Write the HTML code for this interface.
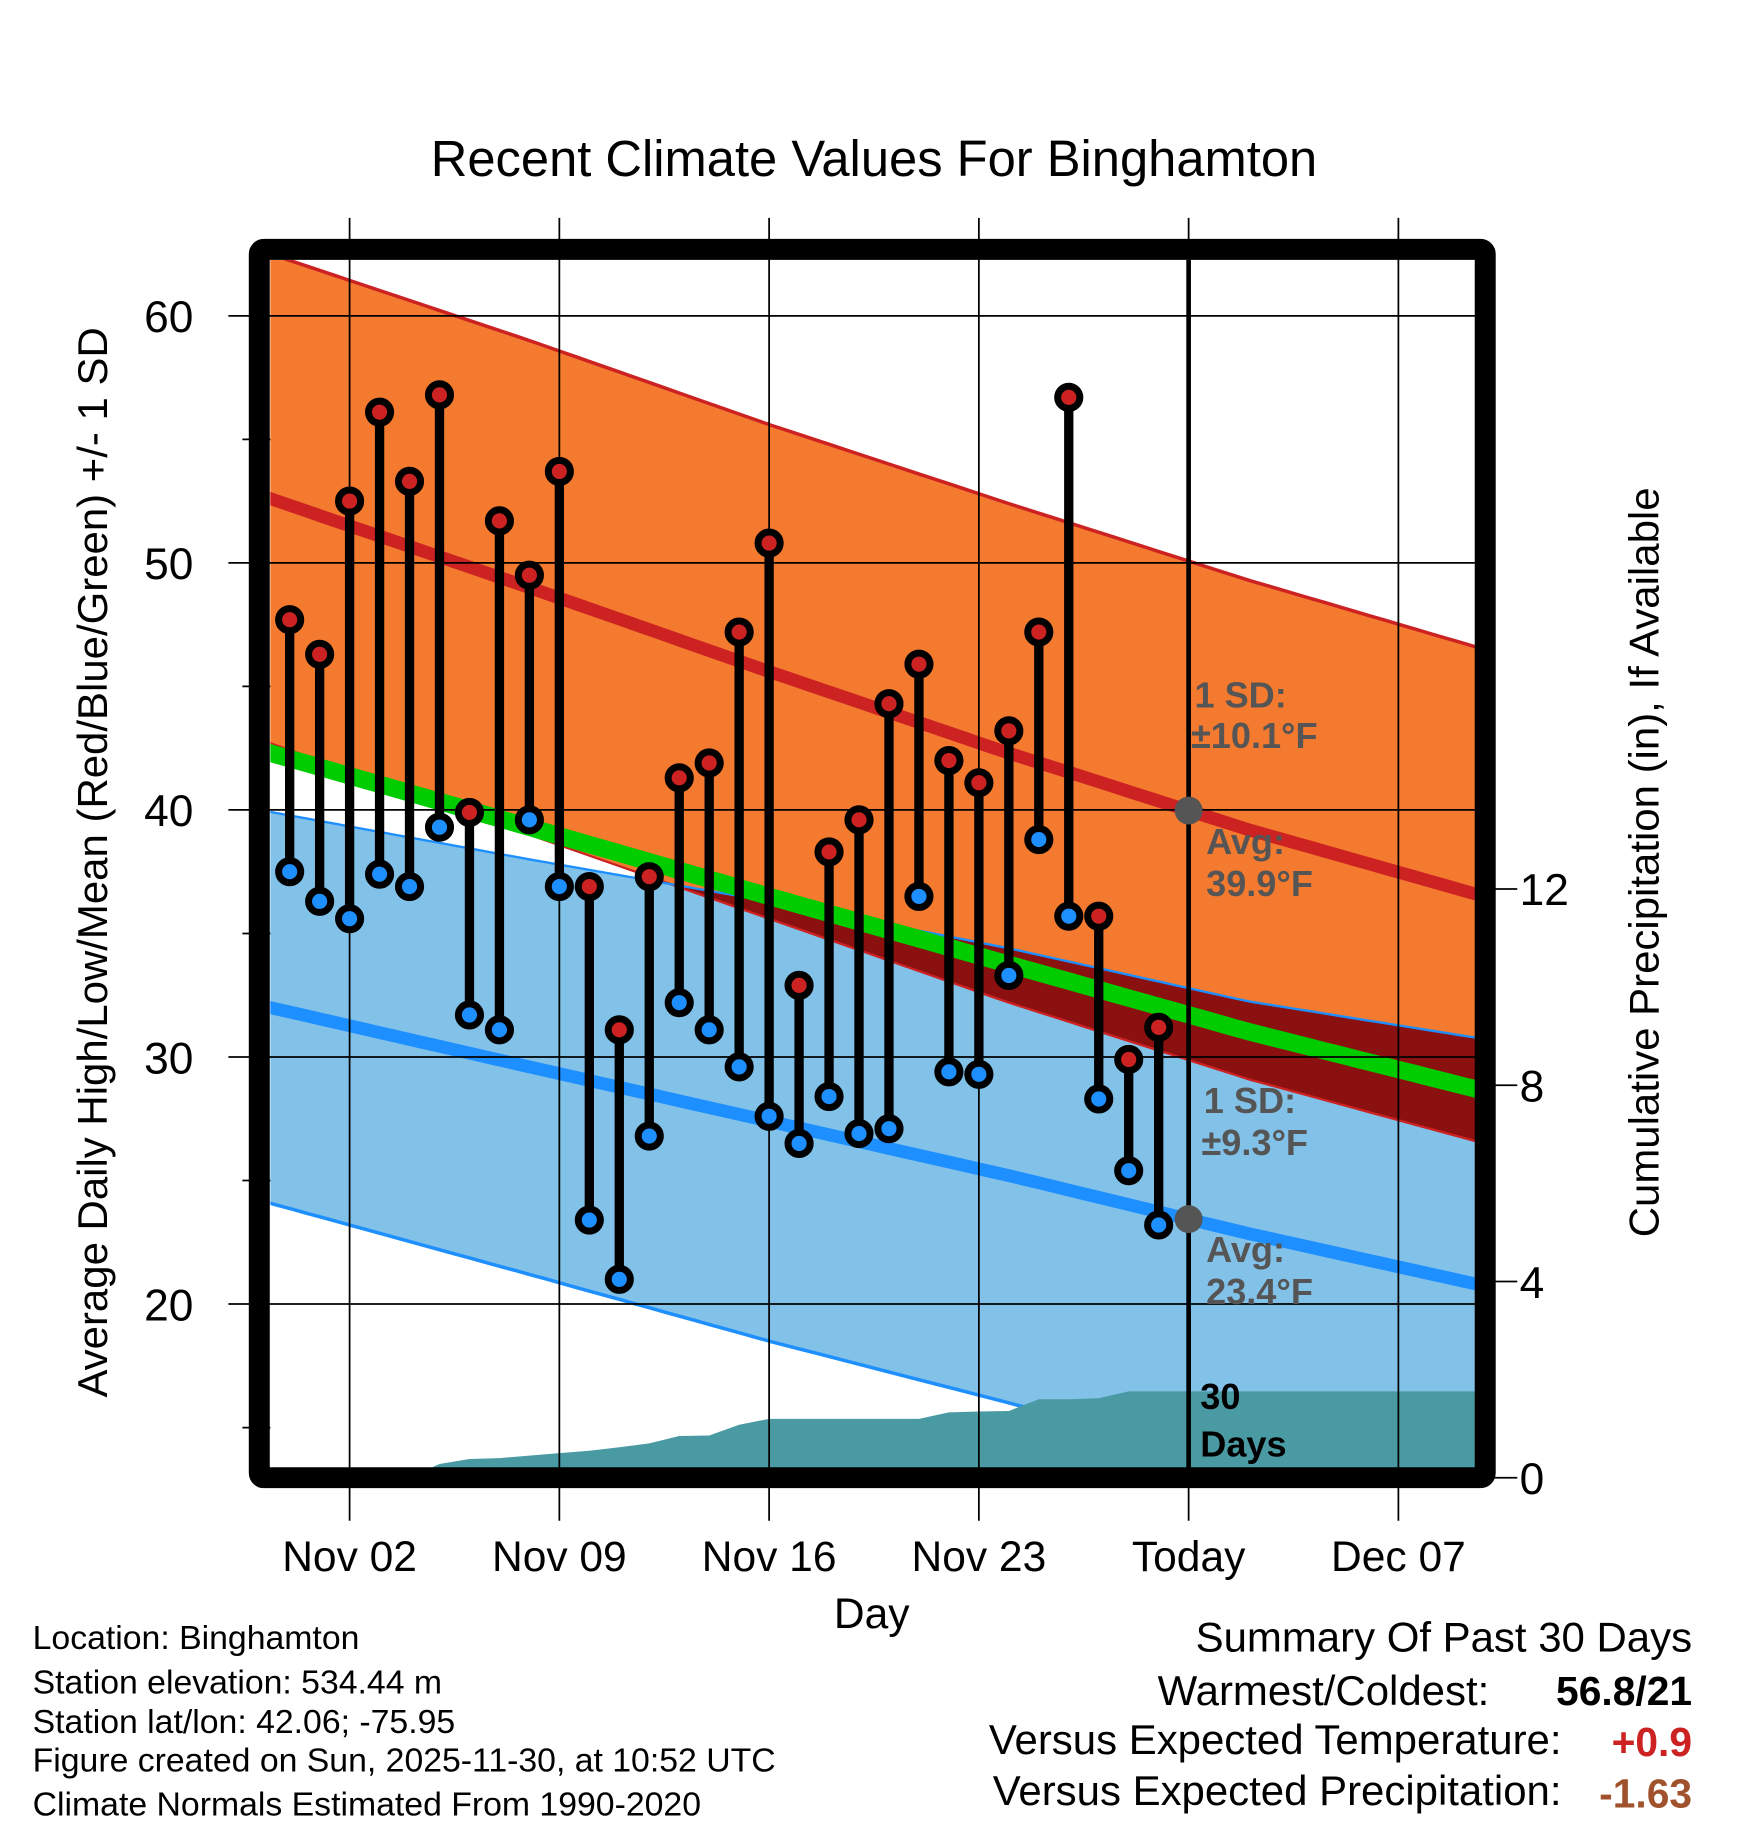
<!DOCTYPE html>
<html><head><meta charset="utf-8"><style>
html,body{margin:0;padding:0;background:#fff}
svg{display:block;font-family:"Liberation Sans",Arial,sans-serif}
</style></head><body>
<svg id="chart" xmlns="http://www.w3.org/2000/svg" width="1748" height="1828" viewBox="0 0 1500 1568.6" preserveAspectRatio="none">
<g id="g"></g>
</svg>
<script>
// ---- data ----
const yTicks = [20, 30, 40, 50, 60];
const yMinor = [15, 25, 35, 45, 55];
const pTicks = [0, 4, 8, 12];
const xTickDays = [2, 9, 16, 23, 30, 37];
const xTickLabels = ["Nov 02", "Nov 09", "Nov 16", "Nov 23", "Today", "Dec 07"];
const obsDays = [0,1,2,3,4,5,6,7,8,9,10,11,12,13,14,15,16,17,18,19,20,21,22,23,24,25,26,27,28,29];
const highs = [47.7,46.3,52.5,56.1,53.3,56.8,39.9,51.7,49.5,53.7,36.9,31.1,37.3,41.3,41.9,47.2,50.8,32.9,38.3,39.6,44.3,45.9,42.0,41.1,43.2,47.2,56.7,35.7,29.9,31.2];
const lows  = [37.5,36.3,35.6,37.4,36.9,39.3,31.7,31.1,39.6,36.9,23.4,21.0,26.8,32.2,31.1,29.6,27.6,26.5,28.4,26.9,27.1,36.5,29.4,29.3,33.3,38.8,35.7,28.3,25.4,23.2];
const precip = [0,0,0,0,0,0.28,0.38,0.4,0.45,0.5,0.55,0.62,0.7,0.85,0.86,1.08,1.2,1.2,1.2,1.2,1.2,1.2,1.33,1.35,1.36,1.6,1.6,1.62,1.76,1.76];
const normDays = [-1, 8, 16, 24, 32, 40];
const avgHigh = [52.75, 49.0, 45.6, 42.3, 39.2, 36.45];
const sdHigh  = [9.9, 10.0, 10.0, 10.1, 10.1, 10.0];
const avgLow  = [32.1, 29.6, 27.4, 25.2, 22.85, 20.7];
const sdLow   = [7.9, 8.4, 8.9, 9.2, 9.4, 10.0];

// ---- axes ----
const L=232,R=1266,T=223,B=1260;
const X = d => 300 + (d-2)*25.714;
const Y = v => 271 + (60-v)*21.2;
const P = p => 1268 - p*42.1;
const dMin=(L-300)/25.714+2-0.3, dMax=(R-300)/25.714+2+0.3;
const NS="http://www.w3.org/2000/svg";
const g=document.getElementById('g');
function el(tag,attrs,parent){const e=document.createElementNS(NS,tag);for(const k in attrs)e.setAttribute(k,attrs[k]);(parent||g).appendChild(e);return e;}
function interp(arr,d){for(let i=0;i<normDays.length-1;i++){if(d<=normDays[i+1]){const t=(d-normDays[i])/(normDays[i+1]-normDays[i]);return arr[i]+t*(arr[i+1]-arr[i]);}}return arr[arr.length-1];}
const samples=[];for(let d=dMin;d<dMax;d+=0.5)samples.push(d);samples.push(dMax);
const hiU=d=>interp(avgHigh,d)+interp(sdHigh,d), hiL=d=>interp(avgHigh,d)-interp(sdHigh,d);
const loU=d=>interp(avgLow,d)+interp(sdLow,d), loL=d=>interp(avgLow,d)-interp(sdLow,d);
const line=f=>samples.map(d=>X(d).toFixed(1)+','+Y(f(d)).toFixed(1));
function band(fu,fl){return 'M'+line(fu).join(' L')+' L'+line(fl).reverse().join(' L')+'Z';}

const clip=el('clipPath',{id:'pc'});el('rect',{x:L,y:T,width:R-L,height:B-T},clip);
const plot=el('g',{'clip-path':'url(#pc)'});

let e;
e=el('path',{d:band(hiU,hiL),fill:'#f47a2f'},plot);

e=el('path',{d:band(loU,loL),fill:'#82c1e8'},plot);

e=el('path',{d:band(d=>Math.min(loU(d),Math.max(hiL(d),loU(d))),d=>Math.min(loU(d),hiL(d))),fill:'#8b1010'},plot);

[[hiU,'#cc2222',3],[hiL,'#cc2222',2],[loU,'#1e8fff',2],[loL,'#1e8fff',3]].forEach(([f,c,w])=>{
  e=el('polyline',{points:line(f).join(' '),fill:'none',stroke:c,'stroke-width':w},plot);
  
});
e=el('polyline',{points:line(d=>interp(avgHigh,d)).join(' '),fill:'none',stroke:'#cc2222','stroke-width':11},plot);

e=el('polyline',{points:line(d=>interp(avgLow,d)).join(' '),fill:'none',stroke:'#1e8fff','stroke-width':11},plot);

e=el('polyline',{points:line(d=>(interp(avgLow,d)+interp(avgHigh,d))/2).join(' '),fill:'none',stroke:'#00cc00','stroke-width':15},plot);


// precip area
let pp='M'+X(obsDays[0])+','+P(0);
obsDays.forEach((d,i)=>{pp+=' L'+X(d)+','+P(precip[i]);});
pp+=' L'+(R+5)+','+P(precip[precip.length-1])+' L'+(R+5)+','+(B+5)+' L'+X(obsDays[0])+','+(B+5)+'Z';
e=el('path',{d:pp,fill:'#4a9aa3'},plot);


// grid
yTicks.forEach(v=>{e=el('line',{x1:196,x2:R,y1:Y(v),y2:Y(v),stroke:'#000','stroke-width':1.5});
});
yMinor.forEach(v=>{e=el('line',{x1:208,x2:L,y1:Y(v),y2:Y(v),stroke:'#000','stroke-width':1.5});
});
xTickDays.forEach(d=>{e=el('line',{x1:X(d),x2:X(d),y1:187,y2:1305,stroke:'#000','stroke-width':1.5});
});
pTicks.forEach(p=>{e=el('line',{x1:R,x2:1302,y1:P(p),y2:P(p),stroke:'#000','stroke-width':1.5});
});

// observations
obsDays.forEach((d,i)=>{
  e=el('line',{x1:X(d),x2:X(d),y1:Y(highs[i]),y2:Y(lows[i]),stroke:'#000','stroke-width':8});
  
});
obsDays.forEach((d,i)=>{
  e=el('circle',{cx:X(d),cy:Y(highs[i]),r:9.5,fill:'#cc2222',stroke:'#000','stroke-width':6});
  
  e=el('circle',{cx:X(d),cy:Y(lows[i]),r:9.5,fill:'#1e8fff',stroke:'#000','stroke-width':6});
  
});

// today line
e=el('line',{x1:X(30),x2:X(30),y1:T,y2:B,stroke:'#000','stroke-width':4});

e=el('circle',{cx:X(30),cy:Y(interp(avgHigh,30)),r:12,fill:'#555'});

e=el('circle',{cx:X(30),cy:Y(interp(avgLow,30)),r:12,fill:'#555'});


// frame
e=el('rect',{x:222.5,y:214,width:1052,height:1054,fill:'none',stroke:'#000','stroke-width':18,rx:4});

</script>
<script>
const S=document.getElementById('chart');
function T2(s,a,name){const e=document.createElementNS("http://www.w3.org/2000/svg",'text');for(const k in a)e.setAttribute(k,a[k]);e.textContent=s;


S.appendChild(e);return e;}
T2("Recent Climate Values For Binghamton",{x:750,y:151,'font-size':43.5,'text-anchor':'middle'},'chart-title');
yTicks.forEach(v=>T2(String(v),{x:166,y:Y(v)+14,'font-size':38,'text-anchor':'end'},'y-tick-label'));
pTicks.forEach(p=>T2(String(p),{x:1304,y:P(p)+14,'font-size':38},'precip-tick-label'));
xTickDays.forEach((d,i)=>T2(xTickLabels[i],{x:X(d),y:1348,'font-size':36.5,'text-anchor':'middle'},'x-tick-label'));
T2("Day",{x:748,y:1397,'font-size':36.5,'text-anchor':'middle'},'x-axis-title');
T2("Average Daily High/Low/Mean (Red/Blue/Green) +/- 1 SD",{x:0,y:0,'font-size':36,'text-anchor':'middle',transform:'translate(92,740) rotate(-90)'},'y-axis-title');
T2("Cumulative Precipitation (in), If Available",{x:0,y:0,'font-size':36,'text-anchor':'middle',transform:'translate(1423,740) rotate(-90)'},'precip-axis-title');
const ann=[["1 SD:",1025,607],["±10.1°F",1022,642],["Avg:",1035,733],["39.9°F",1035,769],["1 SD:",1033,955],["±9.3°F",1031,991],["Avg:",1035,1083],["23.4°F",1035,1119]];
ann.forEach(a=>T2(a[0],{x:a[1],y:a[2],'font-size':31,'font-weight':'bold',fill:'#555'},'normal-annotation'));
T2("30",{x:1030,y:1209,'font-size':31,'font-weight':'bold'},'days-label');
T2("Days",{x:1030,y:1250,'font-size':31,'font-weight':'bold'},'days-label');
const foot=[["Location: Binghamton",1415],["Station elevation: 534.44 m",1453],["Station lat/lon: 42.06; -75.95",1487],["Figure created on Sun, 2025-11-30, at 10:52 UTC",1520],["Climate Normals Estimated From 1990-2020",1558]];
foot.forEach(f=>T2(f[0],{x:28,y:f[1],'font-size':29},'station-info'));
T2("Summary Of Past 30 Days",{x:1452,y:1417,'font-size':36,'text-anchor':'end'},'summary-title');
T2("Warmest/Coldest:",{x:1278,y:1463,'font-size':36,'text-anchor':'end'},'summary-label');
T2("56.8/21",{x:1452,y:1463,'font-size':35,'font-weight':'bold','text-anchor':'end'},'warmest-coldest-value');
T2("Versus Expected Temperature:",{x:1340,y:1505,'font-size':36,'text-anchor':'end'},'summary-label');
T2("+0.9",{x:1452,y:1507,'font-size':35,'font-weight':'bold','text-anchor':'end',fill:'#cc2222'},'temp-departure-value');
T2("Versus Expected Precipitation:",{x:1340,y:1549,'font-size':36,'text-anchor':'end'},'summary-label');
T2("-1.63",{x:1452,y:1551,'font-size':35,'font-weight':'bold','text-anchor':'end',fill:'#a0522d'},'precip-departure-value');
</script>
</body></html>
